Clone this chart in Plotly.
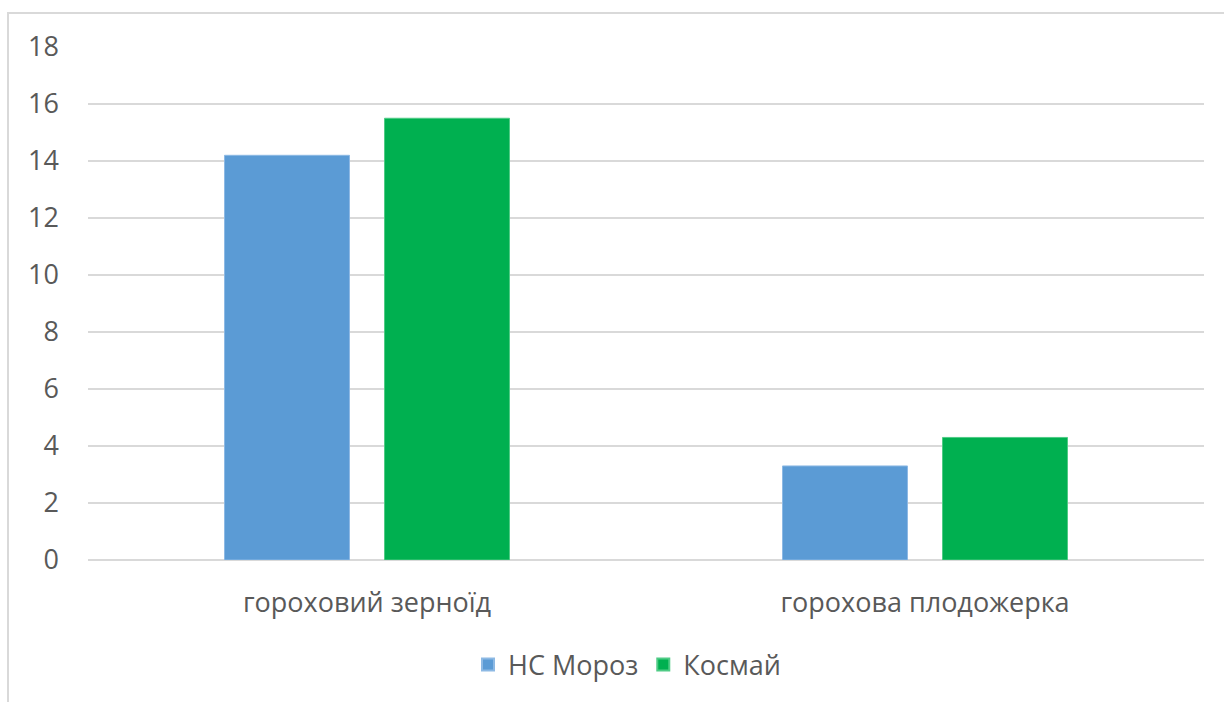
import plotly.graph_objects as go

categories = ["гороховий зерноїд", "горохова плодожерка"]
series_names = ["НС Мороз", "Космай"]
ns_moroz = [14.2, 3.3]
kosmai = [15.5, 4.3]
y_ticks = [0, 2, 4, 6, 8, 10, 12, 14, 16, 18]

colors = ["#5B9BD5", "#00B050"]
edge = ["#8DB9E4", "#4FCB85"]
text_color = "#595959"
grid_color = "#D9D9D9"
font_family = "Open Sans, Noto Sans, DejaVu Sans, sans-serif"
fs = 27

W, H = 1224, 702
ml, mr, mt, mb = 88, 20, 47, 142
pw, ph = W - ml - mr, H - mt - mb

fig = go.Figure()
for name, vals, c, e in zip(series_names, [ns_moroz, kosmai], colors, edge):
    fig.add_trace(go.Bar(
        x=categories, y=vals, name=name,
        marker=dict(color=c, line=dict(color=e, width=1)),
    ))

def px_x(p):
    return (p - ml) / pw

def px_y(p):
    return (H - mb - p) / ph

fig.update_layout(
    width=W, height=H,
    margin=dict(l=ml, r=mr, t=mt, b=mb),
    paper_bgcolor="white", plot_bgcolor="white",
    barmode="group", bargap=0.4265, bargroupgap=0.219,
    font=dict(family=font_family, color=text_color, size=fs),
    showlegend=True,
    legend=dict(
        orientation="h", x=px_x(627), xanchor="center",
        y=px_y(665), yanchor="middle",
        font=dict(size=fs, color=text_color),
        itemsizing="constant", itemwidth=30,
    ),
    xaxis=dict(
        showgrid=False, showline=False, zeroline=False,
        tickfont=dict(size=fs, color=text_color),
        ticks="", ticklabelstandoff=24,
    ),
    yaxis=dict(
        range=[0, 18], tickvals=y_ticks, ticktext=[str(v) for v in y_ticks],
        showgrid=True, gridcolor=grid_color, gridwidth=1.5,
        zeroline=True, zerolinecolor=grid_color, zerolinewidth=1.5,
        showline=False, ticks="",
        tickfont=dict(size=fs, color=text_color),
        ticklabelstandoff=28,
    ),
    shapes=[dict(
        type="rect", xref="paper", yref="paper",
        x0=px_x(8), x1=px_x(1240), y0=px_y(720), y1=px_y(13),
        line=dict(color=grid_color, width=2), fillcolor="rgba(0,0,0,0)",
        layer="below",
    )],
)

fig.write_html("out.html")
